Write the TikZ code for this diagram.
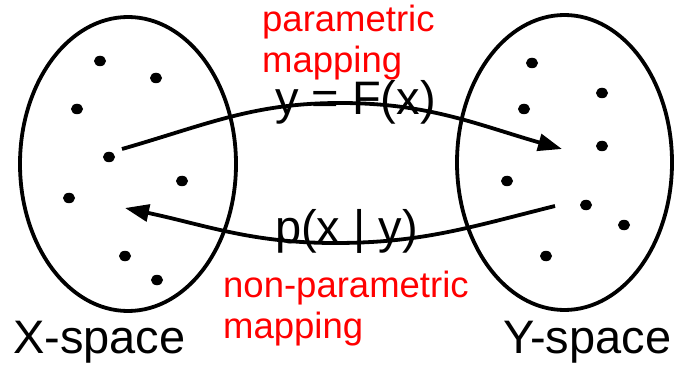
\documentclass[tikz,border=0pt]{standalone}
\usepackage{fontspec}
\setmainfont{Liberation Sans}
\usetikzlibrary{shapes.geometric,arrows.meta}
\definecolor{nred}{RGB}{255,0,0}
\tikzset{
  ell/.style={ellipse,draw=black,line width=3.8pt,inner sep=0pt},
  smp/.style={ellipse,fill=black,minimum width=12pt,minimum height=10.5pt,inner sep=0pt},
  map/.style={line width=3.8pt,-{Triangle[length=24pt,width=17pt]}},
  lab/.style={inner sep=0pt,anchor=base west,font=\fontsize{47}{52}\selectfont},
  note/.style={inner sep=0pt,anchor=base west,text=nred,font=\fontsize{36.5}{41}\selectfont},
}
\begin{document}
\begin{tikzpicture}[x=1pt,y=1pt]
\useasboundingbox (0,0) rectangle (679,367);
% the two spaces
\node[ell,minimum width=216pt,minimum height=294pt] (xsp) at (128,203) {};
\node[ell,minimum width=215pt,minimum height=295pt] (ysp) at (564.5,204.5) {};
% samples in X-space
\node[smp] (x1) at (100,306) {};
\node[smp] (x2) at (156,289) {};
\node[smp] (x3) at (77,258) {};
\node[smp] (x4) at (109,210) {};
\node[smp] (x5) at (182,186) {};
\node[smp] (x6) at (69,169) {};
\node[smp] (x7) at (125,111) {};
\node[smp] (x8) at (157,87) {};
% samples in Y-space
\node[smp] (y1) at (532,304) {};
\node[smp] (y2) at (602,274) {};
\node[smp] (y3) at (524,258) {};
\node[smp] (y4) at (602,221) {};
\node[smp] (y5) at (507,186) {};
\node[smp] (y6) at (586,162) {};
\node[smp] (y7) at (624,142) {};
\node[smp] (y8) at (546,111) {};
% labels
\node[note] (par1) at (262,335) {parametric};
\node[note] (par2) at (262,294) {mapping};
\node[note] (npar1) at (223,70) {non-parametric};
\node[note] (npar2) at (223,29) {mapping};
\node[lab] (fwd) at (275,252) {y = F(x)};
\node[lab] (bwd) at (275,124) {p(x | y)};
\node[lab] (xname) at (13,14) {X-space};
\node[lab] (yname) at (503,14) {Y-space};
% mappings
\coordinate (fwdstart) at (122,218);
\coordinate (fwdpeak) at (340,264);
\coordinate (fwdtip) at (562,218);
\coordinate (bwdstart) at (555,161);
\coordinate (bwdlow) at (335,124);
\coordinate (bwdtip) at (125,159);
\draw[map] (fwdstart) to[out=16,in=180] (fwdpeak) to[out=0,in=164] (fwdtip);
\draw[map] (bwdstart) to[out=194,in=0] (bwdlow) to[out=180,in=-12] (bwdtip);
\end{tikzpicture}
\end{document}
